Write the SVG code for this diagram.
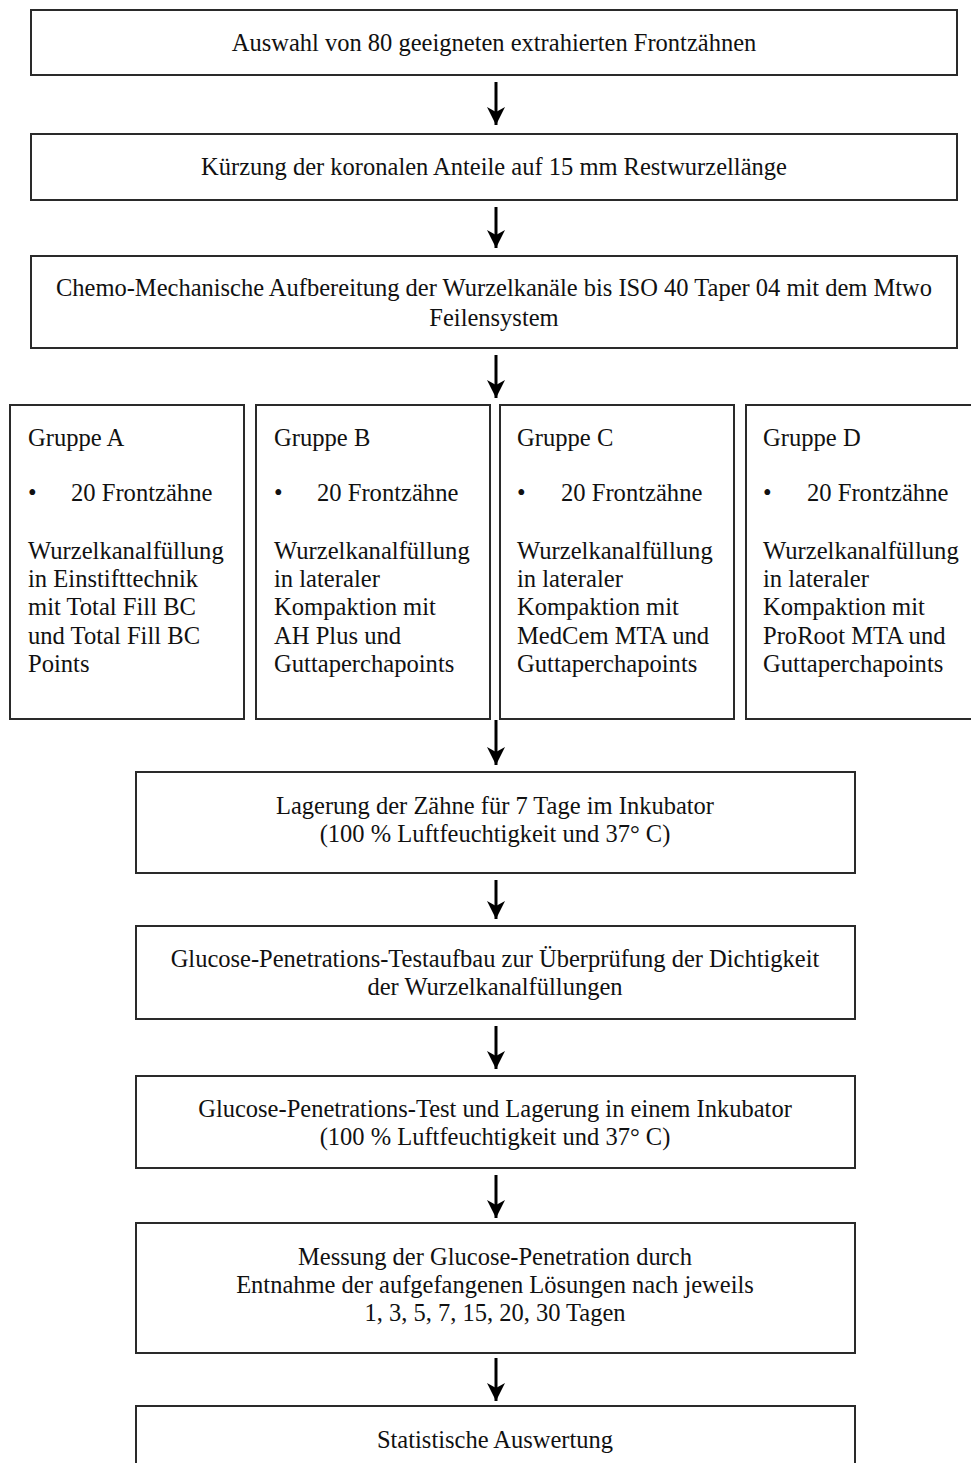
<svg xmlns="http://www.w3.org/2000/svg" width="971" height="1463" viewBox="0 0 971 1463">
<style>
.box{fill:#fff;stroke:#2a2a2a;stroke-width:2}
.t{font-size:24.5px;fill:#111}
.c{text-anchor:middle}
.g{font-size:24.6px;fill:#111}
.conn line{stroke:#000;stroke-width:3}
</style>
<defs>
<marker id="ah" viewBox="0 0 18 18" refX="18" refY="9" markerWidth="18" markerHeight="18" markerUnits="userSpaceOnUse" orient="auto">
<path d="M0,0 L18,9 L0,18 L5,9 Z" fill="#000"/>
</marker>
</defs>
<rect width="971" height="1463" fill="#fff"/>
<g font-family="Liberation Serif, Times New Roman, DejaVu Serif, serif">
<g id="n1"><rect class="box" x="31" y="10" width="926" height="65"/><text class="t c" x="494" y="51">Auswahl von 80 geeigneten extrahierten Frontzähnen</text></g>
<g id="n2"><rect class="box" x="31" y="134" width="926" height="66"/><text class="t c" x="494" y="175">Kürzung der koronalen Anteile auf 15 mm Restwurzellänge</text></g>
<g id="n3"><rect class="box" x="31" y="256" width="926" height="92"/><text class="t c" x="494" y="296">Chemo-Mechanische Aufbereitung der Wurzelkanäle bis ISO 40 Taper 04 mit dem Mtwo</text><text class="t c" x="494" y="326">Feilensystem</text></g>
<g id="gA"><rect class="box" x="10" y="405" width="234" height="314"/>
<text class="g" x="28" y="446">Gruppe A</text><text class="g" x="28" y="501">•</text><text class="g" x="71" y="501">20 Frontzähne</text>
<text class="g" x="28" y="559">Wurzelkanalfüllung</text><text class="g" x="28" y="587">in Einstifttechnik</text><text class="g" x="28" y="615">mit Total Fill BC</text><text class="g" x="28" y="644">und Total Fill BC</text><text class="g" x="28" y="672">Points</text></g>
<g id="gB"><rect class="box" x="256" y="405" width="234" height="314"/>
<text class="g" x="274" y="446">Gruppe B</text><text class="g" x="274" y="501">•</text><text class="g" x="317" y="501">20 Frontzähne</text>
<text class="g" x="274" y="559">Wurzelkanalfüllung</text><text class="g" x="274" y="587">in lateraler</text><text class="g" x="274" y="615">Kompaktion mit</text><text class="g" x="274" y="644">AH Plus und</text><text class="g" x="274" y="672">Guttaperchapoints</text></g>
<g id="gC"><rect class="box" x="500" y="405" width="234" height="314"/>
<text class="g" x="517" y="446">Gruppe C</text><text class="g" x="517" y="501">•</text><text class="g" x="561" y="501">20 Frontzähne</text>
<text class="g" x="517" y="559">Wurzelkanalfüllung</text><text class="g" x="517" y="587">in lateraler</text><text class="g" x="517" y="615">Kompaktion mit</text><text class="g" x="517" y="644">MedCem MTA und</text><text class="g" x="517" y="672">Guttaperchapoints</text></g>
<g id="gD"><rect class="box" x="746" y="405" width="236" height="314"/>
<text class="g" x="763" y="446">Gruppe D</text><text class="g" x="763" y="501">•</text><text class="g" x="807" y="501">20 Frontzähne</text>
<text class="g" x="763" y="559">Wurzelkanalfüllung</text><text class="g" x="763" y="587">in lateraler</text><text class="g" x="763" y="615">Kompaktion mit</text><text class="g" x="763" y="644">ProRoot MTA und</text><text class="g" x="763" y="672">Guttaperchapoints</text></g>
<g id="n5"><rect class="box" x="136" y="772" width="719" height="101"/><text class="t c" x="495" y="814">Lagerung der Zähne für 7 Tage im Inkubator</text><text class="t c" x="495" y="842">(100 % Luftfeuchtigkeit und 37° C)</text></g>
<g id="n6"><rect class="box" x="136" y="926" width="719" height="93"/><text class="t c" x="495" y="967">Glucose-Penetrations-Testaufbau zur Überprüfung der Dichtigkeit</text><text class="t c" x="495" y="995">der Wurzelkanalfüllungen</text></g>
<g id="n7"><rect class="box" x="136" y="1076" width="719" height="92"/><text class="t c" x="495" y="1117">Glucose-Penetrations-Test und Lagerung in einem Inkubator</text><text class="t c" x="495" y="1145">(100 % Luftfeuchtigkeit und 37° C)</text></g>
<g id="n8"><rect class="box" x="136" y="1223" width="719" height="130"/><text class="t c" x="495" y="1265">Messung der Glucose-Penetration durch</text><text class="t c" x="495" y="1293">Entnahme der aufgefangenen Lösungen nach jeweils</text><text class="t c" x="495" y="1321">1, 3, 5, 7, 15, 20, 30 Tagen</text></g>
<g id="n9"><rect class="box" x="136" y="1406" width="719" height="70"/><text class="t c" x="495" y="1448">Statistische Auswertung</text></g>
</g>
<g class="conn" id="connectors">
<line x1="496" y1="82" x2="496" y2="125" marker-end="url(#ah)"/>
<line x1="496" y1="207" x2="496" y2="248" marker-end="url(#ah)"/>
<line x1="496" y1="355" x2="496" y2="398" marker-end="url(#ah)"/>
<line x1="496" y1="720" x2="496" y2="765" marker-end="url(#ah)"/>
<line x1="496" y1="880" x2="496" y2="919" marker-end="url(#ah)"/>
<line x1="496" y1="1026" x2="496" y2="1069" marker-end="url(#ah)"/>
<line x1="496" y1="1175" x2="496" y2="1218" marker-end="url(#ah)"/>
<line x1="496" y1="1358" x2="496" y2="1401" marker-end="url(#ah)"/>
</g>
</svg>
